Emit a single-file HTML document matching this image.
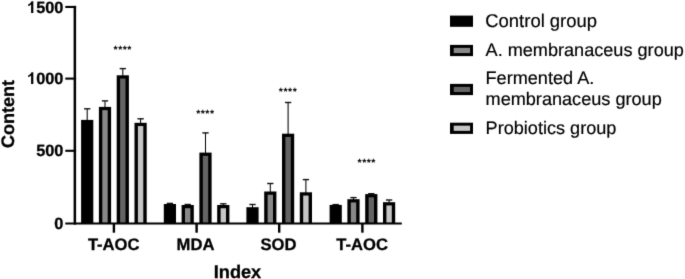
<!DOCTYPE html>
<html><head><meta charset="utf-8"><style>
html,body{margin:0;padding:0;background:#fff;}
text[font-weight="bold"]{stroke:#000;stroke-width:0.3px;}
text.r{stroke:#000;stroke-width:0.18px;}
svg{display:block;font-family:"Liberation Sans",sans-serif;will-change:transform;text-rendering:geometricPrecision;}
</style></head><body>
<svg width="685" height="279" viewBox="0 0 685 279">
<defs><filter id="soft" x="0" y="0" width="685" height="279" filterUnits="userSpaceOnUse" color-interpolation-filters="sRGB"><feConvolveMatrix order="3" kernelMatrix="0.01134 0.08382 0.01134 0.08382 0.61935 0.08382 0.01134 0.08382 0.01134" edgeMode="duplicate"/></filter></defs>
<g filter="url(#soft)">
<rect width="685" height="279" fill="#fff"/>
<line x1="74.85" y1="5.9" x2="74.85" y2="224.6" stroke="#000" stroke-width="2.5"/>
<line x1="65.3" y1="223.5" x2="401.8" y2="223.5" stroke="#000" stroke-width="2.2"/>
<line x1="65.3" y1="6.95" x2="76.1" y2="6.95" stroke="#000" stroke-width="2.1"/>
<line x1="65.3" y1="78.60" x2="76.1" y2="78.60" stroke="#000" stroke-width="2.1"/>
<line x1="65.3" y1="150.80" x2="76.1" y2="150.80" stroke="#000" stroke-width="2.1"/>
<line x1="113.90" y1="223" x2="113.90" y2="232.7" stroke="#000" stroke-width="2.4"/>
<line x1="196.60" y1="223" x2="196.60" y2="232.7" stroke="#000" stroke-width="2.4"/>
<line x1="279.20" y1="223" x2="279.20" y2="232.7" stroke="#000" stroke-width="2.4"/>
<line x1="362.40" y1="223" x2="362.40" y2="232.7" stroke="#000" stroke-width="2.4"/>
<line x1="87.20" y1="108.80" x2="87.20" y2="120.90" stroke="#000" stroke-width="1.05"/>
<line x1="84.05" y1="108.80" x2="90.35" y2="108.80" stroke="#111" stroke-width="1.4"/>
<rect x="81.10" y="119.90" width="12.20" height="103.60" fill="#000"/>
<line x1="105.00" y1="100.90" x2="105.00" y2="107.90" stroke="#000" stroke-width="1.05"/>
<line x1="101.85" y1="100.90" x2="108.15" y2="100.90" stroke="#111" stroke-width="1.4"/>
<rect x="98.90" y="106.90" width="12.20" height="116.60" fill="#000"/>
<rect x="102.30" y="110.15" width="5.40" height="112.25" fill="#888888"/>
<line x1="122.80" y1="68.60" x2="122.80" y2="76.30" stroke="#000" stroke-width="1.05"/>
<line x1="119.65" y1="68.60" x2="125.95" y2="68.60" stroke="#111" stroke-width="1.4"/>
<rect x="116.70" y="75.30" width="12.20" height="148.20" fill="#000"/>
<rect x="120.10" y="78.55" width="5.40" height="143.85" fill="#646464"/>
<line x1="140.60" y1="118.80" x2="140.60" y2="123.80" stroke="#000" stroke-width="1.05"/>
<line x1="137.45" y1="118.80" x2="143.75" y2="118.80" stroke="#111" stroke-width="1.4"/>
<rect x="134.50" y="122.80" width="12.20" height="100.70" fill="#000"/>
<rect x="137.90" y="126.05" width="5.40" height="96.35" fill="#c6c6c6"/>
<line x1="169.90" y1="203.40" x2="169.90" y2="205.00" stroke="#000" stroke-width="1.05"/>
<line x1="166.75" y1="203.40" x2="173.05" y2="203.40" stroke="#111" stroke-width="1.4"/>
<rect x="163.80" y="204.00" width="12.20" height="19.50" fill="#000"/>
<line x1="187.70" y1="204.50" x2="187.70" y2="206.00" stroke="#000" stroke-width="1.05"/>
<line x1="184.55" y1="204.50" x2="190.85" y2="204.50" stroke="#111" stroke-width="1.4"/>
<rect x="181.60" y="205.00" width="12.20" height="18.50" fill="#000"/>
<rect x="185.00" y="208.25" width="5.40" height="14.15" fill="#888888"/>
<line x1="205.50" y1="132.90" x2="205.50" y2="153.60" stroke="#000" stroke-width="1.05"/>
<line x1="202.35" y1="132.90" x2="208.65" y2="132.90" stroke="#111" stroke-width="1.4"/>
<rect x="199.40" y="152.60" width="12.20" height="70.90" fill="#000"/>
<rect x="202.80" y="155.85" width="5.40" height="66.55" fill="#646464"/>
<line x1="223.30" y1="203.80" x2="223.30" y2="206.00" stroke="#000" stroke-width="1.05"/>
<line x1="220.15" y1="203.80" x2="226.45" y2="203.80" stroke="#111" stroke-width="1.4"/>
<rect x="217.20" y="205.00" width="12.20" height="18.50" fill="#000"/>
<rect x="220.60" y="208.25" width="5.40" height="14.15" fill="#c6c6c6"/>
<line x1="252.50" y1="204.50" x2="252.50" y2="208.20" stroke="#000" stroke-width="1.05"/>
<line x1="249.35" y1="204.50" x2="255.65" y2="204.50" stroke="#111" stroke-width="1.4"/>
<rect x="246.40" y="207.20" width="12.20" height="16.30" fill="#000"/>
<line x1="270.30" y1="183.50" x2="270.30" y2="192.50" stroke="#000" stroke-width="1.05"/>
<line x1="267.15" y1="183.50" x2="273.45" y2="183.50" stroke="#111" stroke-width="1.4"/>
<rect x="264.20" y="191.50" width="12.20" height="32.00" fill="#000"/>
<rect x="267.60" y="194.75" width="5.40" height="27.65" fill="#888888"/>
<line x1="288.10" y1="102.50" x2="288.10" y2="134.70" stroke="#000" stroke-width="1.05"/>
<line x1="284.95" y1="102.50" x2="291.25" y2="102.50" stroke="#111" stroke-width="1.4"/>
<rect x="282.00" y="133.70" width="12.20" height="89.80" fill="#000"/>
<rect x="285.40" y="136.95" width="5.40" height="85.45" fill="#646464"/>
<line x1="305.90" y1="179.60" x2="305.90" y2="193.30" stroke="#000" stroke-width="1.05"/>
<line x1="302.75" y1="179.60" x2="309.05" y2="179.60" stroke="#111" stroke-width="1.4"/>
<rect x="299.80" y="192.30" width="12.20" height="31.20" fill="#000"/>
<rect x="303.20" y="195.55" width="5.40" height="26.85" fill="#c6c6c6"/>
<line x1="335.70" y1="204.60" x2="335.70" y2="205.90" stroke="#000" stroke-width="1.05"/>
<line x1="332.55" y1="204.60" x2="338.85" y2="204.60" stroke="#111" stroke-width="1.4"/>
<rect x="329.60" y="204.90" width="12.20" height="18.60" fill="#000"/>
<line x1="353.50" y1="197.60" x2="353.50" y2="200.20" stroke="#000" stroke-width="1.05"/>
<line x1="350.35" y1="197.60" x2="356.65" y2="197.60" stroke="#111" stroke-width="1.4"/>
<rect x="347.40" y="199.20" width="12.20" height="24.30" fill="#000"/>
<rect x="350.80" y="202.45" width="5.40" height="19.95" fill="#888888"/>
<line x1="371.30" y1="193.70" x2="371.30" y2="195.10" stroke="#000" stroke-width="1.05"/>
<line x1="368.15" y1="193.70" x2="374.45" y2="193.70" stroke="#111" stroke-width="1.4"/>
<rect x="365.20" y="194.10" width="12.20" height="29.40" fill="#000"/>
<rect x="368.60" y="197.35" width="5.40" height="25.05" fill="#646464"/>
<line x1="389.10" y1="200.00" x2="389.10" y2="203.20" stroke="#000" stroke-width="1.05"/>
<line x1="385.95" y1="200.00" x2="392.25" y2="200.00" stroke="#111" stroke-width="1.4"/>
<rect x="383.00" y="202.20" width="12.20" height="21.30" fill="#000"/>
<rect x="386.40" y="205.45" width="5.40" height="16.95" fill="#c6c6c6"/>
<text x="122.76" y="53.25" font-size="10.5" letter-spacing="0.52" font-weight="bold" style="stroke:none" text-anchor="middle">****</text>
<text x="205.36" y="116.65" font-size="10.5" letter-spacing="0.52" font-weight="bold" style="stroke:none" text-anchor="middle">****</text>
<text x="288.06" y="94.55" font-size="10.5" letter-spacing="0.52" font-weight="bold" style="stroke:none" text-anchor="middle">****</text>
<text x="366.76" y="165.85" font-size="10.5" letter-spacing="0.52" font-weight="bold" style="stroke:none" text-anchor="middle">****</text>
<text x="63.3" y="13.00" font-size="16.3" font-weight="bold" text-anchor="end">500</text>
<path d="M790 0L510 0L510 1053Q357 910 150 842L150 1096Q259 1132 387 1232Q515 1332 563 1466L790 1466Z" transform="translate(27.04,13.00) scale(0.007959,-0.007959)" fill="#000"/>
<text x="63.3" y="84.00" font-size="16.3" font-weight="bold" text-anchor="end">000</text>
<path d="M790 0L510 0L510 1053Q357 910 150 842L150 1096Q259 1132 387 1232Q515 1332 563 1466L790 1466Z" transform="translate(27.04,84.00) scale(0.007959,-0.007959)" fill="#000"/>
<text x="63.3" y="156.40" font-size="16.3" font-weight="bold" text-anchor="end">500</text>
<text x="63.3" y="228.90" font-size="16.3" font-weight="bold" text-anchor="end">0</text>
<text x="113.70" y="249.7" font-size="16.6" font-weight="bold" text-anchor="middle">T-AOC</text>
<text x="195.50" y="249.7" font-size="16.6" font-weight="bold" text-anchor="middle">MDA</text>
<text x="278.45" y="249.7" font-size="16.6" font-weight="bold" text-anchor="middle">SOD</text>
<text x="362.15" y="249.7" font-size="16.6" font-weight="bold" text-anchor="middle">T-AOC</text>
<text x="237.5" y="277.8" font-size="18.2" font-weight="bold" text-anchor="middle">Index</text>
<text transform="translate(14,114.0) rotate(-90)" font-size="18.05" font-weight="bold" text-anchor="middle">Content</text>
<rect x="450" y="15.60" width="23" height="11.2" fill="#000"/>
<text class="r" x="485.3" y="26.80" font-size="18.45">Control group</text>
<rect x="450" y="44.90" width="23" height="11.2" fill="#000"/>
<rect x="453.7" y="47.85" width="16.4" height="5.2" fill="#888888"/>
<text class="r" x="485.55" y="55.75" font-size="18.12">A. membranaceus group</text>
<rect x="450" y="83.90" width="23" height="11.2" fill="#000"/>
<rect x="453.7" y="86.85" width="16.4" height="5.2" fill="#646464"/>
<text class="r" x="485.55" y="84.40" font-size="18.12">Fermented A.</text>
<text class="r" x="485.55" y="104.80" font-size="18.12">membranaceus group</text>
<rect x="450" y="122.70" width="23" height="11.2" fill="#000"/>
<rect x="453.7" y="125.65" width="16.4" height="5.2" fill="#c6c6c6"/>
<text class="r" x="485.55" y="133.60" font-size="18.12">Probiotics group</text>
</g>
</svg>
</body></html>
